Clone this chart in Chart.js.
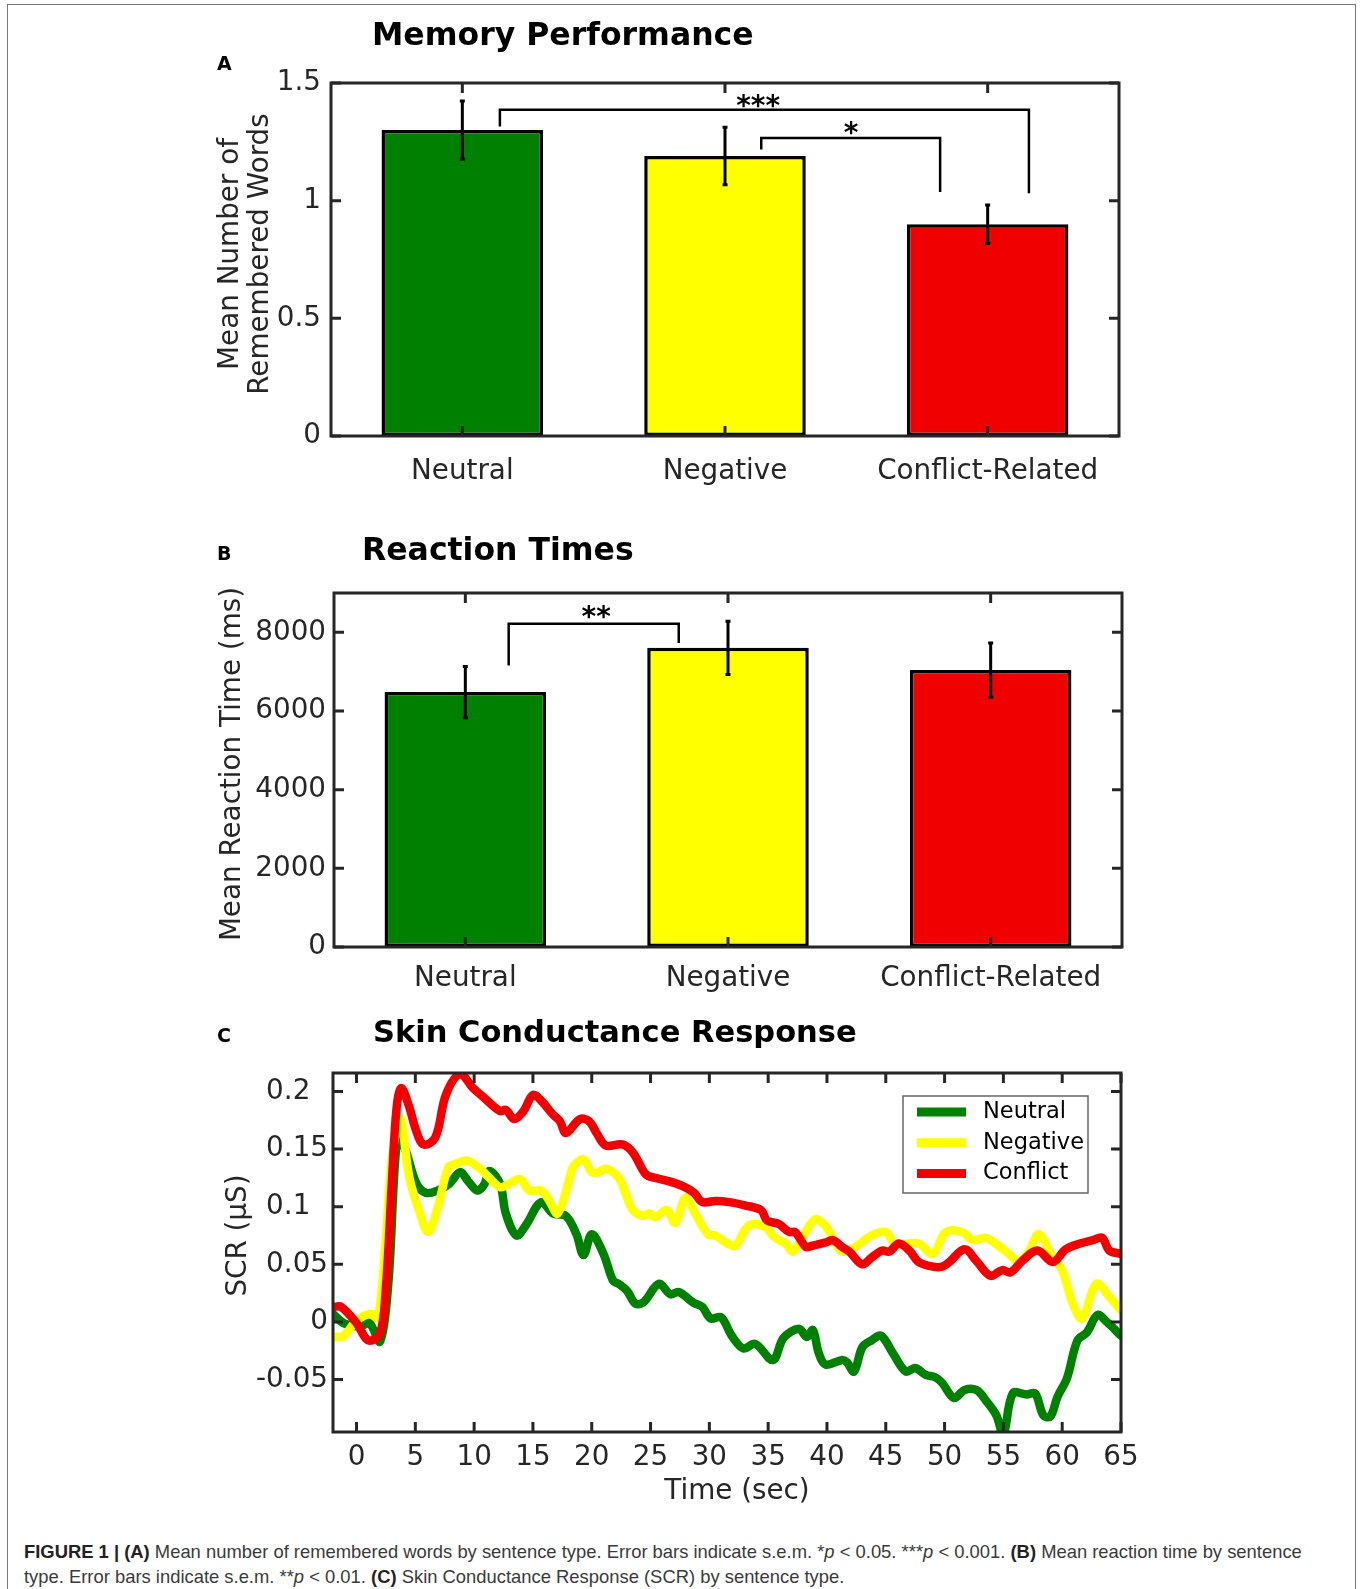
<!DOCTYPE html>
<html>
<head>
<meta charset="utf-8">
<script src="https://cdn.jsdelivr.net/npm/chart.js@4.4.0/dist/chart.umd.min.js"></script>
<style>
  body { margin: 0; background: #fff; width: 1360px; height: 1589px; position: relative; overflow: hidden; }
  canvas { position: absolute; left: 0; }
  .frame { position: absolute; left: 7px; top: 4px; width: 1349px; height: 1600px; border: 1.5px solid #777; box-sizing: border-box; }
  .title { position: absolute; font: bold 31.5px "DejaVu Sans"; line-height: 1; color: #000; white-space: nowrap; }
  .letter { position: absolute; font: bold 19px "DejaVu Sans"; line-height: 1; color: #000; }
  .caption { position: absolute; left: 24px; top: 1539px; font: 18.4px "Liberation Sans", Arial, sans-serif; line-height: 25px; color: #3a3a3a; white-space: nowrap; }
  .caption b { color: #222; }
</style>
</head>
<body>
<div class="frame"></div>
<canvas id="memChart" width="1360" height="510" style="top:0px"></canvas>
<canvas id="rtChart" width="1360" height="500" style="top:500px"></canvas>
<canvas id="scrChart" width="1360" height="520" style="top:1000px"></canvas>

<div class="letter" style="left:217px; top:54px">A</div>
<div class="title" style="left:372px; top:19px">Memory Performance</div>
<div class="letter" style="left:217px; top:544px">B</div>
<div class="title" style="left:362px; top:534px">Reaction Times</div>
<div class="letter" style="left:217px; top:1026px">C</div>
<div class="title" style="left:373px; top:1017px; font-size:30.5px">Skin Conductance Response</div>

<div class="caption"><b>FIGURE 1 | (A)</b> Mean number of remembered words by sentence type. Error bars indicate s.e.m. *<i>p</i> &lt; 0.05. ***<i>p</i> &lt; 0.001. <b>(B)</b> Mean reaction time by sentence<br>type. Error bars indicate s.e.m. **<i>p</i> &lt; 0.01. <b>(C)</b> Skin Conductance Response (SCR) by sentence type.</div>

<script>
// Panel A: memory performance
const memCategories = ["Neutral", "Negative", "Conflict-Related"];
const memMean = [1.30, 1.19, 0.90];
const memSem = [0.124, 0.122, 0.082];
const memYTicks = [0, 0.5, 1, 1.5];

// Panel B: reaction times
const rtCategories = ["Neutral", "Negative", "Conflict-Related"];
const rtMean = [6480, 7605, 7040];
const rtSem = [654, 675, 688];
const rtYTicks = [0, 2000, 4000, 6000, 8000];

// significance brackets (category index / data value)
const memSig = [
    { from: 0.143, to: 2.157, at: 1.386, fromEnd: 1.315, toEnd: 1.032, text: "***", textX: 1.126, textY: 1.433 },
    { from: 1.138, to: 1.819, at: 1.266, fromEnd: 1.217, toEnd: 1.037, text: "*", textX: 1.48, textY: 1.319 }
];
const rtSig = [
    { from: 0.165, to: 0.8125, at: 8221, fromEnd: 7159, toEnd: 7728, text: "**", textX: 0.498, textY: 8565 }
];

// Panel C: skin conductance response
const scrXTicks = [0, 5, 10, 15, 20, 25, 30, 35, 40, 45, 50, 55, 60, 65];
const scrYTicks = [-0.05, 0, 0.05, 0.1, 0.15, 0.2];

const neutralTime = [-2, -1.1, 0.3, 1.1, 2.0, 2.7, 3.5, 4.2, 5.1, 5.9, 6.9, 7.9, 8.8, 9.5, 10.3, 10.9, 11.3, 12.2, 12.7, 13.6,
    14.4, 15.7, 16.7, 17.8, 18.7, 19.3, 20.0, 21.0, 21.8, 22.3, 23.0, 23.7, 24.4, 25.7, 26.7, 27.4, 28.6, 29.4, 30.1, 31.0,
    31.9, 32.9, 33.9, 35.4, 36.3, 37.6, 38.3, 38.8, 39.3, 39.9, 41.3, 41.7, 42.3, 43.0, 43.8, 44.6, 45.6, 46.7, 47.5, 48.4,
    49.2, 49.8, 50.8, 51.7, 52.7, 53.5, 54.4, 55.0, 55.8, 57.0, 57.7, 58.4, 59.0, 59.6, 60.4, 61.3, 62.1, 63.0, 63.8, 65];
const neutralScr = [0.007, -0.001, -0.004, -0.001, -0.017, 0.033, 0.163, 0.148, 0.120, 0.112, 0.114, 0.120, 0.130, 0.122, 0.114, 0.120, 0.131, 0.120, 0.094, 0.075,
    0.084, 0.104, 0.094, 0.092, 0.076, 0.058, 0.076, 0.059, 0.036, 0.033, 0.027, 0.016, 0.017, 0.033, 0.024, 0.026, 0.017, 0.013, 0.003, 0.004,
    -0.012, -0.023, -0.019, -0.033, -0.014, -0.006, -0.013, -0.007, -0.027, -0.037, -0.033, -0.035, -0.043, -0.022, -0.016, -0.012, -0.027, -0.043, -0.040, -0.046,
    -0.048, -0.053, -0.066, -0.059, -0.059, -0.068, -0.081, -0.098, -0.062, -0.063, -0.062, -0.081, -0.082, -0.065, -0.049, -0.016, -0.009, 0.006, 0.000, -0.012];

const negativeTime = [-2, -1.1, 0, 1.1, 1.8, 2.4, 3.0, 3.7, 4.5, 5.4, 6.1, 6.9, 7.8, 8.4, 9.4, 10.5, 11.3, 12.2, 13.0, 13.9,
    14.7, 15.7, 16.4, 17.1, 18.0, 18.4, 19.3, 20.0, 20.6, 21.2, 22.3, 22.9, 23.5, 24.3, 24.9, 25.4, 26.4, 27.1, 28.0, 28.8,
    29.9, 30.5, 31.4, 32.2, 33.1, 33.7, 34.8, 35.6, 36.5, 37.1, 37.9, 39.0, 39.9, 40.7, 41.3, 42.4, 43.8, 45.0, 45.8, 47.8,
    49.0, 50.1, 51.5, 52.4, 53.5, 54.6, 55.5, 56.3, 57.2, 58.0, 59.2, 60.0, 60.9, 61.7, 62.9, 64.0, 65];
const negativeScr = [-0.013, -0.012, 0.001, 0.007, 0.004, 0.06, 0.14, 0.177, 0.125, 0.094, 0.078, 0.099, 0.134, 0.137, 0.140, 0.133, 0.125, 0.117, 0.120, 0.124,
    0.114, 0.114, 0.105, 0.094, 0.120, 0.134, 0.141, 0.130, 0.130, 0.133, 0.125, 0.111, 0.097, 0.092, 0.094, 0.091, 0.097, 0.086, 0.108, 0.094,
    0.076, 0.075, 0.069, 0.066, 0.081, 0.085, 0.082, 0.073, 0.068, 0.061, 0.073, 0.089, 0.083, 0.069, 0.061, 0.065, 0.075, 0.078, 0.068, 0.068,
    0.059, 0.078, 0.078, 0.071, 0.073, 0.066, 0.059, 0.052, 0.062, 0.076, 0.056, 0.045, 0.016, 0.003, 0.033, 0.022, 0.010];

const conflictTime = [-2, -1.3, 0, 1.0, 2.0, 2.5, 3.0, 3.4, 3.8, 4.5, 5.0, 5.7, 6.7, 7.6, 8.8, 9.9, 10.8, 12.2, 12.7, 13.4,
    14.2, 15.0, 15.7, 16.7, 17.3, 17.8, 19.0, 19.8, 20.4, 21.2, 22.6, 23.5, 24.6, 25.4, 26.6, 27.7, 28.7, 29.4, 30.5, 31.7,
    33.1, 34.4, 34.9, 35.9, 36.8, 37.3, 38.2, 38.7, 39.9, 40.5, 41.3, 41.9, 43.0, 43.8, 44.7, 45.3, 46.1, 47.0, 47.8, 49.0,
    49.8, 50.4, 51.7, 52.7, 53.9, 54.9, 55.6, 56.6, 57.9, 59.2, 60.3, 61.5, 62.6, 63.4, 64.0, 65];
const conflictScr = [0.013, 0.013, -0.001, -0.016, -0.010, 0.03, 0.12, 0.185, 0.203, 0.186, 0.168, 0.154, 0.160, 0.197, 0.215, 0.203, 0.195, 0.183, 0.184, 0.176,
    0.183, 0.197, 0.192, 0.180, 0.174, 0.164, 0.176, 0.174, 0.164, 0.153, 0.154, 0.147, 0.128, 0.125, 0.122, 0.118, 0.112, 0.104, 0.105, 0.104,
    0.101, 0.097, 0.088, 0.085, 0.078, 0.078, 0.065, 0.066, 0.069, 0.071, 0.065, 0.061, 0.050, 0.056, 0.062, 0.061, 0.068, 0.062, 0.052, 0.048,
    0.048, 0.052, 0.063, 0.053, 0.040, 0.045, 0.043, 0.053, 0.062, 0.052, 0.063, 0.068, 0.071, 0.073, 0.062, 0.059];

const ink = "#262626";
const barColors = ["#008000", "#ffff00", "#f00000"];
const fontSize = 27.8;
Chart.defaults.font.family = "'DejaVu Sans', sans-serif";
Chart.defaults.color = ink;

// Matlab-like box with inward ticks on all four sides
const axisBox = {
    id: "axisBox",
    afterDatasetsDraw(chart) {
        const { ctx, chartArea: a, scales } = chart;
        ctx.save();
        ctx.strokeStyle = ink;
        ctx.lineWidth = 3;
        ctx.beginPath();
        scales.x.ticks.forEach((t, i) => {
            const px = scales.x.getPixelForTick(i);
            ctx.moveTo(px, a.bottom); ctx.lineTo(px, a.bottom - 10);
            ctx.moveTo(px, a.top); ctx.lineTo(px, a.top + 10);
        });
        scales.y.ticks.forEach((t, i) => {
            const py = scales.y.getPixelForTick(i);
            ctx.moveTo(a.left, py); ctx.lineTo(a.left + 10, py);
            ctx.moveTo(a.right, py); ctx.lineTo(a.right - 10, py);
        });
        ctx.stroke();
        ctx.strokeRect(a.left, a.top, a.right - a.left, a.bottom - a.top);
        ctx.restore();
    }
};

// axis titles placed relative to the plot box
const axisTitles = {
    id: "axisTitles",
    afterDraw(chart, args, opts) {
        const { ctx, chartArea: a } = chart;
        ctx.save();
        ctx.fillStyle = ink;
        ctx.font = fontSize + "px 'DejaVu Sans'";
        ctx.textAlign = "center";
        ctx.textBaseline = "middle";
        if (opts.y) {
            const cy = (a.top + a.bottom) / 2 + opts.y.dy;
            opts.y.lines.forEach((line, i) => {
                ctx.save();
                ctx.translate(a.left - opts.y.gap + i * 29.5, cy);
                ctx.rotate(-Math.PI / 2);
                ctx.fillText(line, 0, 0);
                ctx.restore();
            });
        }
        if (opts.x) {
            ctx.fillText(opts.x.text, (a.left + a.right) / 2 + opts.x.dx, a.bottom + opts.x.gap);
        }
        ctx.restore();
    }
};

const errorBars = {
    id: "errorBars",
    afterDatasetsDraw(chart, args, opts) {
        const { ctx } = chart;
        const y = chart.scales.y;
        const values = chart.data.datasets[0].data;
        ctx.save();
        ctx.strokeStyle = "#000";
        ctx.lineWidth = 3;
        chart.getDatasetMeta(0).data.forEach((bar, i) => {
            const hi = y.getPixelForValue(values[i] + opts.sem[i]);
            const lo = y.getPixelForValue(values[i] - opts.sem[i]);
            ctx.beginPath();
            ctx.moveTo(bar.x, hi); ctx.lineTo(bar.x, lo);
            ctx.moveTo(bar.x - 2.5, hi); ctx.lineTo(bar.x + 2.5, hi);
            ctx.moveTo(bar.x - 2.5, lo); ctx.lineTo(bar.x + 2.5, lo);
            ctx.stroke();
        });
        ctx.restore();
    }
};

const sigBrackets = {
    id: "sigBrackets",
    afterDatasetsDraw(chart, args, opts) {
        const { ctx, scales: { x, y } } = chart;
        const fs = 28;
        ctx.save();
        ctx.strokeStyle = "#000";
        ctx.fillStyle = "#000";
        ctx.lineWidth = 2.5;
        ctx.font = "bold " + fs + "px 'DejaVu Sans'";
        ctx.textAlign = "center";
        ctx.textBaseline = "alphabetic";
        opts.items.forEach(b => {
            const x1 = x.getPixelForValue(b.from), x2 = x.getPixelForValue(b.to);
            const yy = y.getPixelForValue(b.at);
            ctx.beginPath();
            ctx.moveTo(x1, y.getPixelForValue(b.fromEnd));
            ctx.lineTo(x1, yy);
            ctx.lineTo(x2, yy);
            ctx.lineTo(x2, y.getPixelForValue(b.toEnd));
            ctx.stroke();
            ctx.fillText(b.text, x.getPixelForValue(b.textX), y.getPixelForValue(b.textY) + 0.58 * fs);
        });
        ctx.restore();
    }
};

const boxLegend = {
    id: "boxLegend",
    afterDraw(chart) {
        const { ctx, chartArea: a } = chart;
        const w = 185, h = 97;
        const bx = a.right - 218, by = a.top + 23;
        ctx.save();
        ctx.fillStyle = "#fff";
        ctx.fillRect(bx, by, w, h);
        ctx.strokeStyle = "#666";
        ctx.lineWidth = 1.5;
        ctx.strokeRect(bx, by, w, h);
        ctx.font = "22.5px 'DejaVu Sans'";
        ctx.textBaseline = "middle";
        chart.data.datasets.forEach((ds, i) => {
            const ly = by + 16 + i * 30.8;
            ctx.strokeStyle = ds.borderColor;
            ctx.lineWidth = 9;
            ctx.beginPath();
            ctx.moveTo(bx + 14, ly); ctx.lineTo(bx + 63, ly);
            ctx.stroke();
            ctx.fillStyle = "#000";
            ctx.fillText(ds.label, bx + 80, ly);
        });
        ctx.restore();
    }
};

function barChart(id, labels, means, sems, yTicks, yMax, sig, yTitle, box) {
    return new Chart(document.getElementById(id), {
        type: "bar",
        data: {
            labels: labels,
            datasets: [{
                data: means,
                backgroundColor: barColors,
                borderColor: "#000",
                borderWidth: 3.5,
                borderSkipped: false,
                barPercentage: 0.615,
                categoryPercentage: 1
            }]
        },
        options: {
            responsive: false,
            animation: false,
            devicePixelRatio: 1,
            layout: { padding: box.padding },
            plugins: {
                legend: { display: false },
                tooltip: { enabled: false },
                errorBars: { sem: sems },
                sigBrackets: { items: sig },
                axisTitles: { y: yTitle }
            },
            scales: {
                x: {
                    grid: { display: false, drawTicks: false },
                    border: { display: false },
                    ticks: { padding: box.xPad, font: { size: fontSize }, color: ink, autoSkip: false, maxRotation: 0 },
                    afterFit: s => { s.height = box.xH; }
                },
                y: {
                    min: 0,
                    max: yMax,
                    afterBuildTicks: s => { s.ticks = yTicks.map(v => ({ value: v })); },
                    grid: { display: false, drawTicks: false },
                    border: { display: false },
                    ticks: { padding: box.yPad, font: { size: fontSize }, color: ink, callback: v => String(v) },
                    afterFit: s => { s.width = 120; }
                }
            }
        },
        plugins: [axisBox, errorBars, sigBrackets, axisTitles]
    });
}

barChart("memChart", memCategories, memMean, memSem, memYTicks, 1.5, memSig,
    { lines: ["Mean Number of", "Remembered Words"], gap: 100, dy: -5.5 },
    { padding: { left: 211, right: 241, top: 83, bottom: 14 }, xH: 60, xPad: 19, yPad: 10 });

barChart("rtChart", rtCategories, rtMean, rtSem, rtYTicks, 9000, rtSig,
    { lines: ["Mean Reaction Time (ms)"], gap: 101, dy: -6 },
    { padding: { left: 214, right: 238, top: 93, bottom: 3 }, xH: 50, xPad: 15, yPad: 8 });

const toPoints = (t, v) => t.map((x, i) => ({ x: x, y: v[i] }));

// one-decimal labels keep a digit-wide gap on the right, as in the original
const scrYLabel = v => {
    const s = String(v);
    return /\.\d$/.test(s) ? s + "\u2007" : s;
};

new Chart(document.getElementById("scrChart"), {
    type: "line",
    data: {
        datasets: [
            { label: "Neutral", data: toPoints(neutralTime, neutralScr), borderColor: "#008000", order: 3, clip: 0 },
            { label: "Negative", data: toPoints(negativeTime, negativeScr), borderColor: "#ffff00", order: 2, clip: 0 },
            { label: "Conflict", data: toPoints(conflictTime, conflictScr), borderColor: "#f00000", order: 1, clip: 0 }
        ]
    },
    options: {
        responsive: false,
        animation: false,
        devicePixelRatio: 1,
        layout: { padding: { left: 213, right: 239, top: 73, bottom: 8 } },
        elements: {
            line: { borderWidth: 8.5, tension: 0.35, borderCapStyle: "round", borderJoinStyle: "round" },
            point: { radius: 0 }
        },
        plugins: {
            legend: { display: false },
            tooltip: { enabled: false },
            axisTitles: {
                y: { lines: ["SCR (µS)"], gap: 94, dy: -17 },
                x: { text: "Time (sec)", dx: 10, gap: 60 }
            }
        },
        scales: {
            x: {
                type: "linear",
                min: -2,
                max: 65,
                afterBuildTicks: s => { s.ticks = scrXTicks.map(v => ({ value: v })); },
                grid: { display: false, drawTicks: false },
                border: { display: false },
                ticks: { padding: 9, font: { size: fontSize }, color: ink, autoSkip: false, maxRotation: 0, callback: v => String(v) },
                afterFit: s => { s.height = 80; }
            },
            y: {
                min: -0.0955,
                max: 0.216,
                afterBuildTicks: s => { s.ticks = scrYTicks.map(v => ({ value: v })); },
                grid: { display: false, drawTicks: false },
                border: { display: false },
                ticks: { padding: 5, font: { size: fontSize }, color: ink, callback: scrYLabel },
                afterFit: s => { s.width = 120; }
            }
        }
    },
    plugins: [axisBox, boxLegend, axisTitles]
});
</script>
</body>
</html>
